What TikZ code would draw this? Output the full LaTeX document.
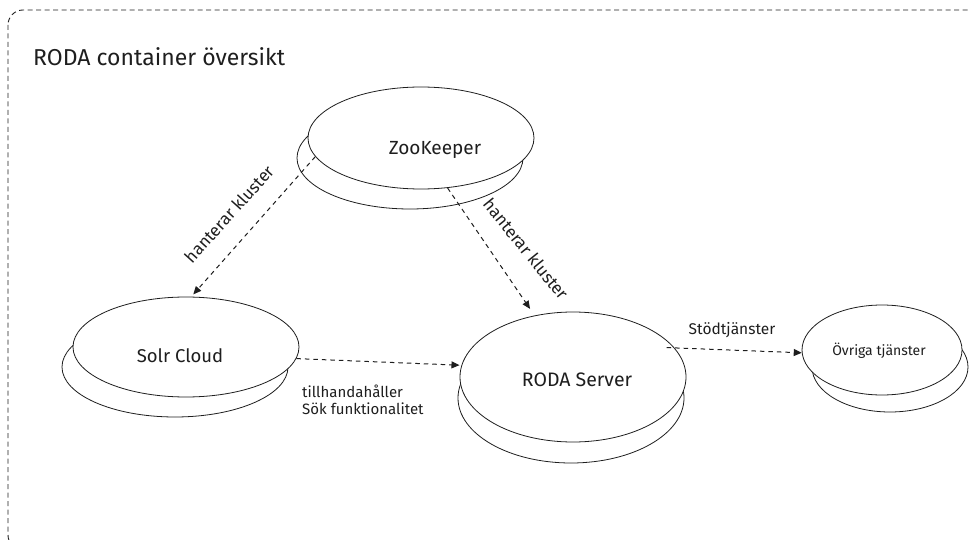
\documentclass[tikz,border=0pt]{standalone}
\usepackage{fontspec}
\setmainfont{Fira Sans}
\usetikzlibrary{shapes.geometric,arrows.meta}
\definecolor{ink}{HTML}{1E1E1E}
\tikzset{
  disk/.style={ellipse, draw=ink, fill=white, line width=0.8pt, inner sep=0pt},
  flow/.style={draw=ink, line width=1pt, dash pattern=on 4.5pt off 4pt, -{Triangle[length=8pt,width=7pt]}},
  lbl/.style={text=ink, inner sep=0pt},
}
\begin{document}
\begin{tikzpicture}[x=1pt,y=-1pt]
\useasboundingbox (0,0) rectangle (971,540);
\draw[ink, line width=0.9pt, dash pattern=on 5pt off 3.5pt, rounded corners=15pt] (8,10) rectangle (985,550);
\node[lbl, anchor=base west, font=\fontsize{23}{27}\selectfont] (title) at (33,66) {RODA container översikt};

% ZooKeeper
\node[disk, minimum width=226pt, minimum height=102pt] (zkb) at (410,158) {};
\node[disk, minimum width=226pt, minimum height=102pt] (zk) at (421,138) {};
\node[lbl, font=\fontsize{19}{22}\selectfont] (zkt) at (435,150) {ZooKeeper};

% Solr Cloud
\node[disk, minimum width=226pt, minimum height=100pt] (solrb) at (175,367) {};
\node[disk, minimum width=226pt, minimum height=100pt] (solr) at (186,347) {};
\node[lbl, font=\fontsize{18.5}{22}\selectfont] (solrt) at (180,356) {Solr Cloud};

% RODA Server
\node[disk, minimum width=226pt, minimum height=130pt] (rodab) at (571,398) {};
\node[disk, minimum width=226pt, minimum height=130pt] (roda) at (573,377) {};
\node[lbl, font=\fontsize{19.5}{23}\selectfont] (rodat) at (577,380) {RODA Server};

% Övriga tjänster
\node[disk, minimum width=156pt, minimum height=90pt] (ovrb) at (890,367) {};
\node[disk, minimum width=160pt, minimum height=90pt] (ovr) at (882,350) {};
\node[lbl, font=\fontsize{14}{17}\selectfont] (ovrt) at (879,351) {Övriga tjänster};

% connectors
\draw[flow, shorten >=3pt] (zk.190) -- (solr.84);
\draw[flow, shorten >=8pt] (zk.-62) -- (roda.122);
\draw[flow, shorten >=2pt] (solr.-6) -- (roda.174);
\draw[flow, shorten <=-8pt] (roda.16) -- (ovr.182);

% labels
\node[lbl, rotate=48, font=\fontsize{17}{20}\selectfont] (l1) at (229,214) {hanterar kluster};
\node[lbl, rotate=-51, font=\fontsize{17}{20}\selectfont] (l2) at (526,249) {hanterar kluster};
\node[lbl, anchor=west, align=left, font=\fontsize{15}{16.5}\selectfont] (l3) at (302,400) {tillhandahåller\\Sök funktionalitet};
\node[lbl, font=\fontsize{15.5}{18}\selectfont] (l4) at (732,330) {Stödtjänster};
\end{tikzpicture}
\end{document}
